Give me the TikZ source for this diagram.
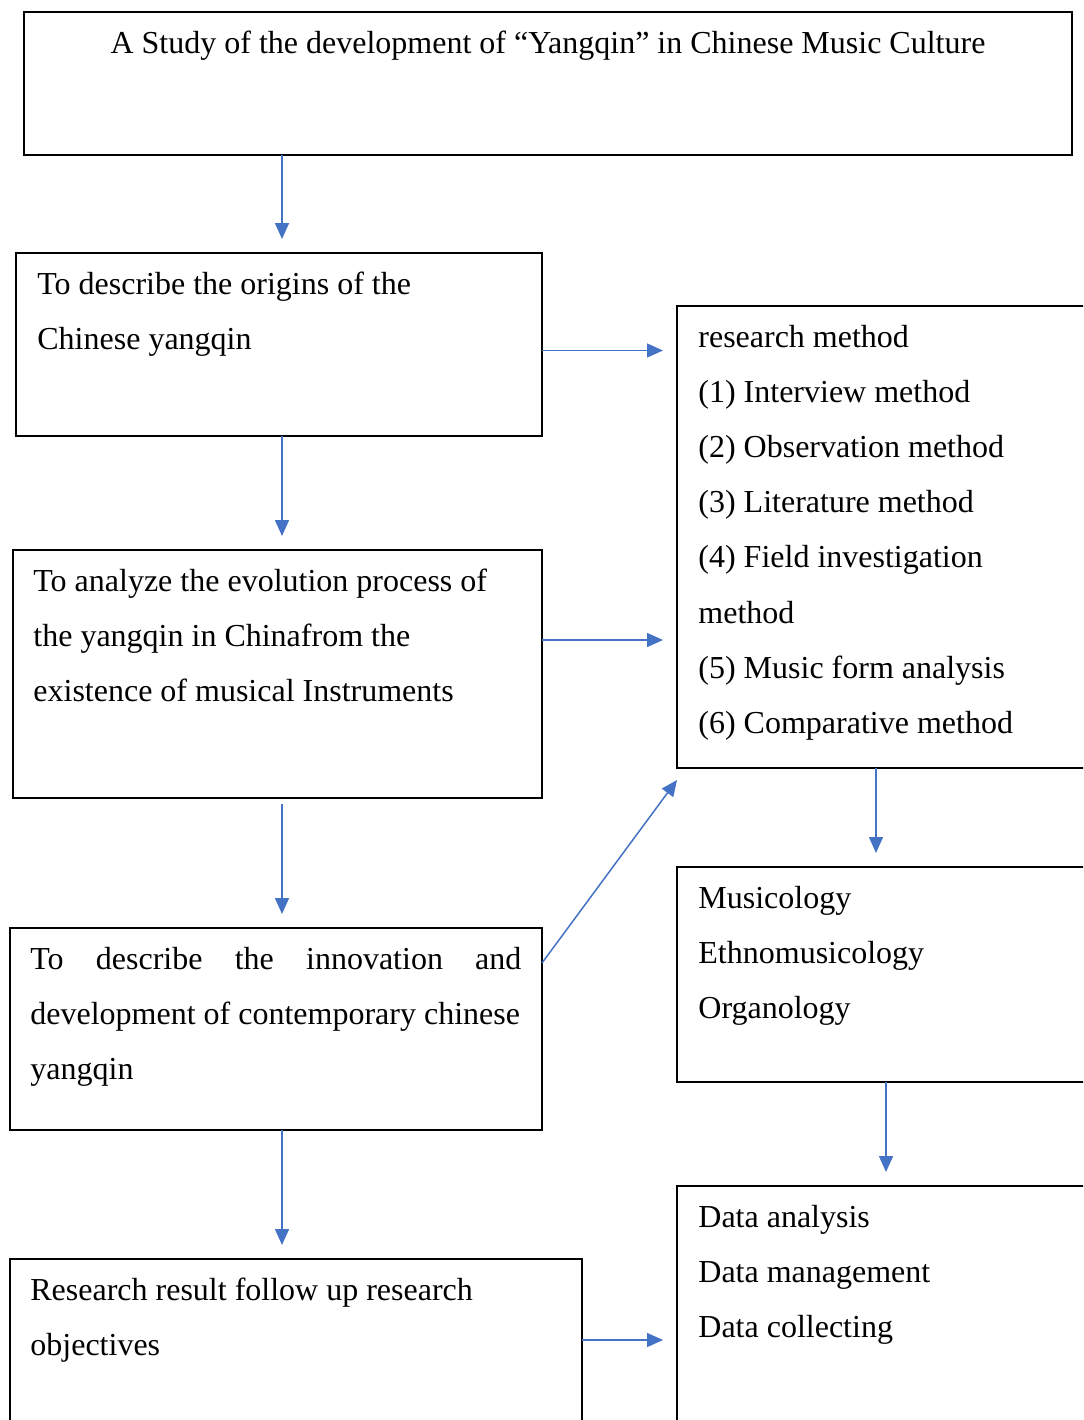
\documentclass[tikz,border=0pt]{standalone}
\usepackage{fontspec}
\setmainfont{Liberation Serif}
\usetikzlibrary{arrows.meta}
\definecolor{flowblue}{HTML}{4472C4}
\newcommand{\boxlines}[1]{\parbox[t]{400pt}{\raggedright #1}}

\begin{document}
\begin{tikzpicture}[x=0.5pt, y=-0.5pt,
	frame/.style={draw, line width=1pt, rectangle, inner sep=0pt, outer sep=0pt, anchor=north west},
	words/.style={anchor=base west, inner sep=0pt, font=\fontsize{16}{27.6}\selectfont},
	flow/.style={draw=flowblue, line width=0.75pt, -{Triangle[length=8pt,width=7pt]}, shorten >=7pt}]
	\clip (0,0) rectangle (1083,1420);
	% left column
	\node[frame, minimum width=524pt, minimum height=71.5pt] (title) at (24,12) {};
	\node[frame, minimum width=263pt, minimum height=91.5pt] (origin) at (16,253) {};
	\node[frame, minimum width=264.5pt, minimum height=124pt] (evol) at (13,550) {};
	\node[frame, minimum width=266pt, minimum height=101pt] (innov) at (10,928) {};
	\node[frame, minimum width=286pt, minimum height=81pt] (result) at (10,1259) {};
	% right column
	\node[frame, minimum width=206.5pt, minimum height=231pt] (meth) at (677,306) {};
	\node[frame, minimum width=206.5pt, minimum height=107.5pt] (disc) at (677,867) {};
	\node[frame, minimum width=206.5pt, minimum height=157pt] (data) at (677,1186) {};

	% texts
	\node[words, anchor=base] (titletext) at ([yshift=-20.5pt]title.north) {A Study of the development of “Yangqin” in Chinese Music Culture};
	\node[words] (origintext) at ([shift={(10.5pt,-20.5pt)}]origin.north west) {\boxlines{To describe the origins of the\\ Chinese yangqin}};
	\node[words] (evoltext) at ([shift={(10pt,-20.5pt)}]evol.north west) {\boxlines{To analyze the evolution process of\\ the yangqin in Chinafrom the\\ existence of musical Instruments}};
	\node[words] (innovtext) at ([shift={(10pt,-20.5pt)}]innov.north west) {\boxlines{\makebox[245.5pt][s]{To describe the innovation and}\\ development of contemporary chinese\\ yangqin}};
	\node[words] (resulttext) at ([shift={(10pt,-20.5pt)}]result.north west) {\boxlines{Research result follow up research\\ objectives}};
	\node[words] (methtext) at ([shift={(10.5pt,-20.5pt)}]meth.north west) {\boxlines{research method\\ (1) Interview method\\ (2) Observation method\\ (3) Literature method\\ (4) Field investigation\\ method\\ (5) Music form analysis\\ (6) Comparative method}};
	\node[words] (disctext) at ([shift={(10.5pt,-20.5pt)}]disc.north west) {\boxlines{Musicology\\ Ethnomusicology\\ Organology}};
	\node[words] (datatext) at ([shift={(10.5pt,-20.5pt)}]data.north west) {\boxlines{Data analysis\\ Data management\\ Data collecting}};

	% connectors
	\coordinate (spine) at (282,0);
	\draw[flow] (title.south -| spine) -- (origin.north -| spine);
	\draw[flow] (origin.south -| spine) -- (evol.north -| spine);
	\draw[flow] ([yshift=-3pt]evol.south -| spine) -- (innov.north -| spine);
	\draw[flow] (innov.south -| spine) -- (result.north -| spine);
	\coordinate (a1) at ([yshift=-3pt]origin.east);
	\coordinate (a2) at ([yshift=17pt]evol.east);
	\draw[flow] (a1) -- (a1 -| meth.west);
	\draw[flow] (a2) -- (a2 -| meth.west);
	\draw[flow, shorten >=0pt] ([yshift=33pt]innov.east) -- ([yshift=-6pt]meth.south west);
	\draw[flow] ([xshift=-3.75pt]meth.south) -- ([xshift=-3.75pt]disc.north);
	\draw[flow] ([xshift=1.25pt]disc.south) -- ([xshift=1.25pt]data.north);
	\draw[flow] (result.east) -- (result.east -| data.west);
\end{tikzpicture}
\end{document}
